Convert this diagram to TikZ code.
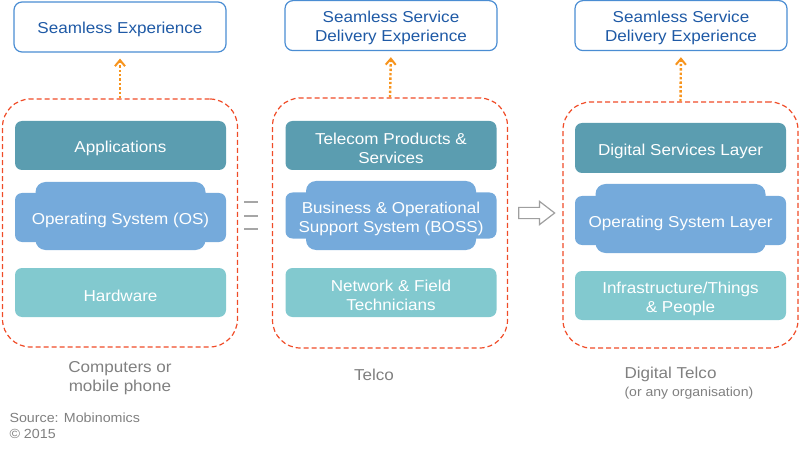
\documentclass[tikz,border=0pt]{standalone}
\usepackage{fontspec}
\setmainfont{Liberation Sans}[FakeStretch=1.08]
\usetikzlibrary{positioning, shapes.arrows, arrows.meta}
\definecolor{topblue}{RGB}{74,141,211}
\definecolor{toptext}{RGB}{31,90,166}
\definecolor{appteal}{RGB}{91,157,176}
\definecolor{osblue}{RGB}{117,170,219}
\definecolor{hwteal}{RGB}{130,201,207}
\definecolor{grpred}{RGB}{240,76,40}
\definecolor{dotorange}{RGB}{247,148,29}
\definecolor{labelgray}{RGB}{128,128,128}

\begin{document}
\begin{tikzpicture}[x=1pt, y=-1pt,
        txt/.style={font=\fontsize{15.8}{19}\selectfont},
        topbox/.style={draw=topblue, line width=1.2pt, rounded corners=8pt, fill=white, minimum width=212pt, minimum height=50pt,
            label={[txt, text=toptext, align=center, yshift=-2.5pt]center:#1}},
        layer/.style={rounded corners=7pt, minimum width=211pt, minimum height=49pt, inner sep=0pt,
            label={[txt, text=white, align=center, yshift=-3pt]center:#1}},
        bump/.style={fill=osblue, rounded corners=10pt, minimum width=170pt, minimum height=68pt},
        grp/.style={draw=grpred, line width=1.2pt, dash pattern=on 5pt off 3pt, rounded corners=28pt, minimum width=235pt, minimum height=248pt},
        arrow/.style={draw=dotorange, line width=2.4pt, dotted, -{Straight Barb[length=6pt, width=10pt, line width=2pt]}, shorten >=6pt},
        caption/.style={text=labelgray, align=center, txt}
    ]
        \useasboundingbox (0,0) rectangle (800,465);

        % Top boxes
        \node[topbox={Seamless Experience}] (top1) at (120,27) {};
        \node[topbox={Seamless Service\\Delivery Experience}] (top2) at (391,25.6) {};
        \node[topbox={Seamless Service\\Delivery Experience}] (top3) at (681,25.6) {};

        % Groups
        \node[grp] (g1) at (120,223) {};
        \node[grp, minimum height=250pt] (g2) at (390,223) {};
        \node[grp, minimum height=246pt] (g3) at (680.5,225) {};

        % Computers
        \node[layer={Applications}, fill=appteal] (app) at (120.5,145.5) {};
        \node[bump] (osb) at (120.5,216) {};
        \node[layer={Operating System (OS)}, fill=osblue] (os) at (120.5,217.5) {};
        \node[layer={Hardware}, fill=hwteal] (hw) at (120.5,292.5) {};

        % Telco
        \node[layer={Telecom Products \&\\Services}, fill=appteal] (tps) at (391,145.5) {};
        \node[bump, minimum height=69pt] (bossb) at (391,215.5) {};
        \node[layer={Business \& Operational\\Support System (BOSS)}, fill=osblue, minimum height=46pt] (boss) at (391,215.5) {};
        \node[layer={Network \& Field\\Technicians}, fill=hwteal] (nft) at (391,292.5) {};

        % Digital Telco
        \node[layer={Digital Services Layer}, fill=appteal, minimum height=50pt] (dsl) at (680.5,148) {};
        \node[bump, minimum height=69pt] (oslb) at (680.5,218.5) {};
        \node[layer={Operating System Layer}, fill=osblue] (osl) at (680.5,220.5) {};
        \node[layer={Infrastructure/Things\\\& People}, fill=hwteal] (inf) at (680.5,295.5) {};

        % Equals and arrow
        \foreach \y in {202,216,229}
            \draw[gray!70, line width=2.6pt] (244,\y) -- (258,\y);
        \node[single arrow, draw=gray!75, line width=1.2pt, fill=white, minimum height=36pt, minimum width=22pt, inner sep=5pt, single arrow head extend=6pt, single arrow tip angle=75] (cmp) at (533,213) {};

        % Arrows
        \draw[arrow] (g1.north) -- (top1.south);
        \draw[arrow] (g2.north) -- (top2.south);
        \draw[arrow] (g3.north) -- (top3.south);

        % Captions
        \node[caption] (lab1) at (120,378.5) {Computers or\\mobile phone};
        \node[caption] (lab2) at (374,375) {Telco};
        \node[caption, anchor=west] (lab3) at (621,374) {Digital Telco};
        \node[text=labelgray, anchor=west, font=\fontsize{13}{16}\selectfont] (lab3b) at (621,393.5) {(or any organisation)};
        \node[text=labelgray, anchor=west, align=left, font=\fontsize{13.2}{16}\selectfont] (src) at (6,426) {Source: Mobinomics\\© 2015};
    \end{tikzpicture}
\end{document}
